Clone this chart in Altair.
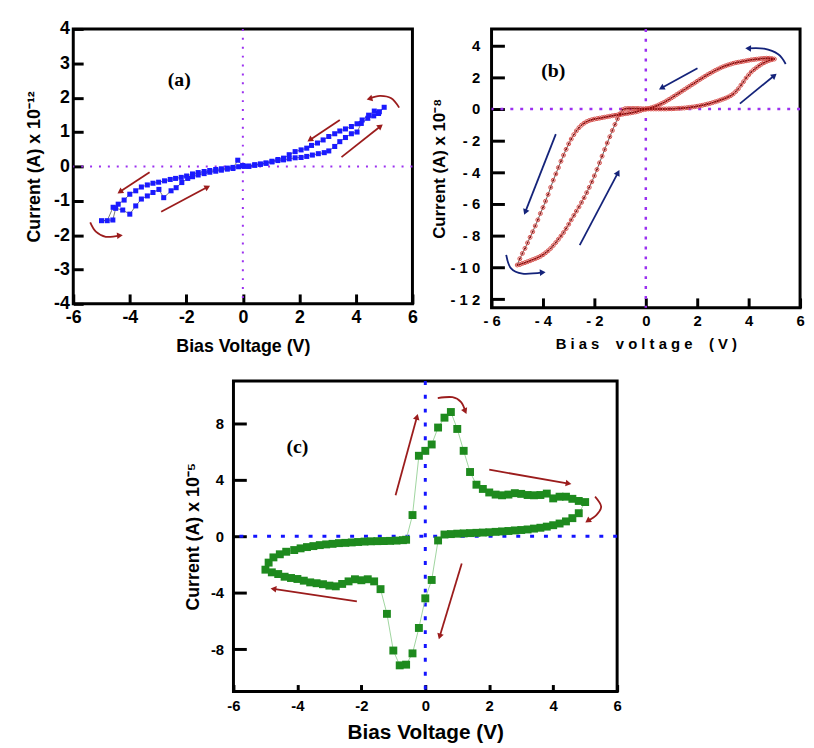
import math
import altair as alt
import pandas as pd

# ---------------- Panel (a): I (x 1e-12 A) vs V ----------------
a1_v = [0.0, 0.21, 0.42, 0.62, 0.82, 1.03, 1.24, 1.44, 1.64, 1.85, 2.06, 2.26, 2.46, 2.67, 2.88, 3.04, 3.25, 3.43, 3.63, 3.84, 4.04, 4.19, 4.42, 4.63, 4.80, 5.0]
a1_i = [0.02, 0.0, 0.05, 0.07, 0.09, 0.13, 0.17, 0.19, 0.22, 0.25, 0.26, 0.29, 0.33, 0.37, 0.40, 0.45, 0.58, 0.72, 0.84, 0.95, 1.0, 1.25, 1.40, 1.47, 1.54, 1.72]
a2_v = [4.83, 4.65, 4.45, 4.22, 4.04, 3.84, 3.63, 3.43, 3.25, 3.04, 2.84, 2.64, 2.43, 2.26, 2.06, 1.85, 1.64, 1.44, 1.24, 1.03, 0.82, 0.62, 0.42, 0.21, 0.05]
a2_i = [1.59, 1.61, 1.49, 1.35, 1.24, 1.16, 1.09, 1.03, 0.95, 0.87, 0.77, 0.68, 0.61, 0.53, 0.48, 0.43, 0.34, 0.24, 0.20, 0.15, 0.10, 0.06, 0.03, 0.01, 0.0]
a3_v = [-0.15, -0.35, -0.55, -0.76, -0.96, -1.17, -1.37, -1.58, -1.78, -1.99, -2.18, -2.38, -2.57, -2.77, -2.98, -3.18, -3.38, -3.59, -3.79, -4.0, -4.20, -4.41, -4.59, -4.80, -5.0]
a3_i = [-0.01, -0.03, -0.05, -0.07, -0.09, -0.12, -0.15, -0.18, -0.22, -0.28, -0.32, -0.35, -0.38, -0.42, -0.46, -0.49, -0.54, -0.60, -0.71, -0.81, -0.98, -1.10, -1.19, -1.58, -1.58]
a4_v = [-4.6, -4.5, -4.25, -4.0, -3.79, -3.59, -3.38, -3.18, -2.97, -2.80, -2.54, -2.36, -2.16, -1.95, -1.78, -1.58, -1.37, -1.17, -0.96, -0.76, -0.55, -0.35, -0.18, 0.0]
a4_i = [-1.56, -1.22, -1.27, -1.39, -1.15, -0.95, -0.86, -0.76, -0.67, -0.91, -0.71, -0.62, -0.47, -0.35, -0.30, -0.25, -0.21, -0.17, -0.14, -0.11, -0.08, -0.06, 0.18, 0.02]

# ---------------- Panel (b): I (x 1e-8 A) vs V ----------------
b1_v = [0.0, 0.1, 0.2, 0.3, 0.4, 0.5, 0.6, 0.7, 0.8, 0.9, 1.0, 1.1, 1.2, 1.3, 1.4, 1.5, 1.6, 1.7, 1.8, 1.9, 2.0, 2.1, 2.2, 2.3, 2.4, 2.5, 2.6, 2.7, 2.8, 2.9, 3.0, 3.1, 3.2, 3.3, 3.4, 3.5, 3.6, 3.7, 3.8, 3.9, 4.0, 4.1, 4.2, 4.3, 4.4, 4.5, 4.6, 4.7, 4.8, 4.9, 5.0]
b1_i = [0, 0, 0, 0, 0, 0, 0, 0, 0, 0.01, 0.01, 0.02, 0.03, 0.04, 0.05, 0.06, 0.08, 0.1, 0.12, 0.14, 0.17, 0.2, 0.23, 0.27, 0.31, 0.35, 0.4, 0.45, 0.5, 0.56, 0.62, 0.68, 0.75, 0.84, 0.95, 1.1, 1.28, 1.5, 1.72, 1.95, 2.15, 2.33, 2.48, 2.6, 2.72, 2.83, 2.92, 3.0, 3.06, 3.11, 3.15]
b2_v = [4.9, 4.8, 4.7, 4.6, 4.5, 4.4, 4.3, 4.2, 4.1, 4.0, 3.9, 3.8, 3.7, 3.6, 3.5, 3.4, 3.3, 3.2, 3.1, 3.0, 2.9, 2.8, 2.7, 2.6, 2.5, 2.4, 2.3, 2.2, 2.1, 2.0, 1.9, 1.8, 1.7, 1.6, 1.5, 1.4, 1.3, 1.2, 1.1, 1.0, 0.9, 0.8, 0.7, 0.6, 0.5, 0.4, 0.3, 0.2, 0.1, 0.0]
b2_i = [3.18, 3.2, 3.2, 3.19, 3.18, 3.16, 3.14, 3.12, 3.1, 3.07, 3.04, 3.01, 2.98, 2.95, 2.92, 2.88, 2.83, 2.78, 2.72, 2.66, 2.59, 2.51, 2.43, 2.34, 2.25, 2.16, 2.06, 1.96, 1.86, 1.75, 1.64, 1.54, 1.43, 1.33, 1.22, 1.12, 1.01, 0.91, 0.8, 0.7, 0.6, 0.5, 0.41, 0.33, 0.25, 0.18, 0.12, 0.07, 0.03, 0.0]
b3_v = [-0.1, -0.2, -0.3, -0.4, -0.5, -0.6, -0.7, -0.8, -0.9, -1.0, -1.1, -1.2, -1.3, -1.4, -1.5, -1.6, -1.7, -1.8, -1.9, -2.0, -2.1, -2.2, -2.3, -2.4, -2.5, -2.6, -2.7, -2.8, -2.9, -3.0, -3.1, -3.2, -3.3, -3.4, -3.5, -3.6, -3.7, -3.8, -3.9, -4.0, -4.1, -4.2, -4.3, -4.4, -4.5, -4.6, -4.7, -4.8, -4.9, -5.0]
b3_i = [-0.05, -0.1, -0.15, -0.19, -0.22, -0.25, -0.28, -0.3, -0.33, -0.36, -0.38, -0.4, -0.43, -0.46, -0.49, -0.52, -0.55, -0.58, -0.61, -0.64, -0.68, -0.73, -0.8, -0.9, -1.02, -1.18, -1.38, -1.62, -1.9, -2.2, -2.55, -2.92, -3.3, -3.7, -4.1, -4.5, -4.95, -5.4, -5.82, -6.22, -6.6, -7.0, -7.38, -7.75, -8.1, -8.45, -8.8, -9.12, -9.45, -9.85]
b4_v = [-4.9, -4.8, -4.7, -4.6, -4.5, -4.4, -4.3, -4.2, -4.1, -4.0, -3.9, -3.8, -3.7, -3.6, -3.5, -3.4, -3.3, -3.2, -3.1, -3.0, -2.9, -2.8, -2.7, -2.6, -2.5, -2.4, -2.3, -2.2, -2.1, -2.0, -1.9, -1.8, -1.7, -1.6, -1.5, -1.4, -1.3, -1.2, -1.1, -1.0, -0.9, -0.8, -0.7, -0.6, -0.5, -0.4, -0.3, -0.2, -0.1, 0.0]
b4_i = [-9.82, -9.75, -9.7, -9.64, -9.58, -9.51, -9.45, -9.38, -9.3, -9.2, -9.08, -8.95, -8.8, -8.62, -8.43, -8.23, -8.02, -7.8, -7.55, -7.28, -7.0, -6.72, -6.45, -6.18, -5.9, -5.6, -5.28, -4.95, -4.6, -4.22, -3.82, -3.4, -2.98, -2.56, -2.15, -1.75, -1.36, -0.98, -0.62, -0.3, -0.05, 0.02, 0.03, 0.03, 0.03, 0.03, 0.03, 0.02, 0.01, 0.0]

# ---------------- Panel (c): I (x 1e-5 A) vs V ----------------
c1_v = [-0.6, -0.4, -0.2, 0.0, 0.2, 0.4, 0.6, 0.8, 1.0, 1.2, 1.4, 1.6, 1.8, 2.0, 2.2, 2.4, 2.6, 2.8, 3.0, 3.2, 3.4, 3.6, 3.8, 4.0, 4.2, 4.4, 4.6, 4.8, 5.0]
c1_i = [-0.25, 1.5, 5.7, 6.05, 6.5, 7.7, 8.4, 8.8, 7.6, 6.05, 4.55, 3.65, 3.35, 3.1, 2.95, 2.9, 2.95, 3.05, 3.0, 2.92, 2.9, 2.92, 3.02, 2.68, 2.8, 2.8, 2.65, 2.5, 2.42]
c2_v = [4.8, 4.6, 4.4, 4.2, 4.0, 3.8, 3.6, 3.4, 3.2, 3.0, 2.8, 2.6, 2.4, 2.2, 2.0, 1.8, 1.6, 1.4, 1.2, 1.0, 0.8, 0.6, 0.4]
c2_i = [1.63, 1.28, 1.05, 0.9, 0.78, 0.68, 0.6, 0.54, 0.48, 0.44, 0.41, 0.37, 0.34, 0.31, 0.28, 0.26, 0.24, 0.22, 0.2, 0.18, 0.15, 0.12, -0.3]
c3_v = [0.2, 0.0, -0.2, -0.4, -0.6, -0.8, -1.0, -1.2, -1.4, -1.6, -1.8, -2.0, -2.2, -2.4, -2.6, -2.8, -3.0, -3.2, -3.4, -3.6, -3.8, -4.0, -4.2, -4.4, -4.6, -4.8, -5.0]
c3_i = [-3.1, -4.4, -6.5, -8.3, -9.1, -9.15, -8.1, -5.5, -3.75, -3.2, -3.05, -3.12, -3.05, -3.2, -3.38, -3.55, -3.5, -3.4, -3.33, -3.27, -3.15, -3.03, -2.96, -2.87, -2.68, -2.56, -2.37]
c4_v = [-4.9, -4.75, -4.55, -4.35, -4.1, -3.9, -3.7, -3.5, -3.3, -3.1, -2.9, -2.7, -2.5, -2.3, -2.1, -1.9, -1.7, -1.5, -1.3, -1.1, -0.9, -0.7]
c4_i = [-1.87, -1.5, -1.28, -1.1, -0.98, -0.86, -0.77, -0.7, -0.63, -0.58, -0.54, -0.49, -0.47, -0.44, -0.41, -0.38, -0.36, -0.35, -0.34, -0.33, -0.31, -0.28]

# ---------------- Sweep-direction arrows (data coordinates) ----------------
a_arrows = [
    [(3.43, 1.35), (2.37, 0.77)],
    [(3.49, 0.27), (4.87, 1.17)],
    [(-3.30, -0.17), (-4.35, -0.74)],
    [(-2.89, -1.32), (-1.25, -0.60)],
    [(5.53, 1.71), (5.25, 1.98), (4.85, 2.05), (4.48, 1.97)],
    [(-5.40, -1.63), (-5.20, -1.90), (-4.85, -2.05), (-4.35, -2.01)],
]
b_arrows = [
    [(2.01, 2.57), (0.61, 1.32)],
    [(3.66, 0.34), (5.00, 2.11)],
    [(-3.50, -1.59), (-4.69, -6.51)],
    [(-2.57, -8.59), (-1.08, -4.02)],
    [(5.44, 2.84), (5.15, 3.45), (4.60, 3.80), (3.98, 3.82)],
    [(-5.43, -9.21), (-5.25, -10.05), (-4.80, -10.40), (-4.01, -10.32)],
]
c_arrows = [
    [(-0.93, 2.91), (-0.26, 8.46)],
    [(0.39, 9.79), (0.85, 9.85), (1.12, 9.50), (1.25, 8.85)],
    [(2.00, 4.71), (4.48, 3.73)],
    [(5.31, 2.80), (5.50, 2.10), (5.35, 1.50), (5.08, 1.09)],
    [(1.14, -1.94), (0.45, -7.11)],
    [(-2.14, -4.61), (-4.75, -3.73)],
]

FONT = "Liberation Sans"
SERIF = "Liberation Serif"

A_W, A_H, A_XD, A_YD = 343, 278, [-6, 6], [-4, 4]
B_W, B_H, B_XD, B_YD = 312, 282, [-6, 6], [-12.55, 5.05]
C_W, C_H, C_XD, C_YD = 388, 314, [-6, 6], [-11, 11]

HYPHEN = "(datum.value < 0 ? '-' : '') + abs(datum.value)"
SPACED = ("datum.value < 0 ? '- ' + (abs(datum.value) >= 10 ? '1 ' + (abs(datum.value) - 10) "
          ": abs(datum.value)) : '' + datum.value")
NB = "\u00a0"
B_XTITLE = (NB.join("Bias") + NB * 4 + NB.join("voltage") + NB * 4 + NB.join("(V)"))


def scale(dom):
    return alt.Scale(domain=dom, nice=False, zero=False)


def loop_df(branches):
    rows, k = [], 0
    for vs, cs in branches:
        for v, c in zip(vs, cs):
            rows.append({"v": v, "c": c, "k": k})
            k += 1
    return pd.DataFrame(rows)


def axis(values, expr, size, tick, lpad, title, tsize, tpad, weight="bold", flush=False):
    return alt.Axis(values=values, labelExpr=expr, grid=False, domain=False,
                    ticks=True, tickSize=tick, tickWidth=3, tickColor="black",
                    offset=-tick, labelPadding=lpad, labelFont=FONT,
                    labelFontWeight=weight, labelFontSize=size, labelColor="black",
                    labelFlush=flush, labelOverlap=False,
                    title=title, titleFont=FONT, titleFontWeight="bold",
                    titleFontSize=tsize, titlePadding=tpad, titleColor="black")


class Panel:
    def __init__(self, xd, yd, W, H, xax, yax):
        self.xd, self.yd, self.W, self.H = xd, yd, W, H
        self.xax, self.yax = xax, yax

    def X(self):
        return alt.X("v:Q", scale=scale(self.xd), axis=self.xax)

    def Y(self):
        return alt.Y("c:Q", scale=scale(self.yd), axis=self.yax)

    def zero_lines(self, color, dash, width):
        z = pd.DataFrame({"v": [0], "c": [0]})
        vline = alt.Chart(z).mark_rule(color=color, strokeDash=dash, strokeWidth=width).encode(x=self.X())
        hline = alt.Chart(z).mark_rule(color=color, strokeDash=dash, strokeWidth=width).encode(y=self.Y())
        return [vline, hline]

    def arrows(self, arrows, color, width, head):
        kx = self.W / (self.xd[1] - self.xd[0])
        ky = self.H / (self.yd[1] - self.yd[0])
        rows, heads = [], []
        for j, pts in enumerate(arrows):
            for n, (v, c) in enumerate(pts):
                rows.append({"v": v, "c": c, "n": n, "id": j})
            (v1, c1), (v2, c2) = pts[-2], pts[-1]
            dx = (v2 - v1) * kx
            dy = -(c2 - c1) * ky
            ang = math.degrees(math.atan2(dx, -dy)) % 360
            heads.append({"v": v2, "c": c2, "ang": ang})
        lines = alt.Chart(pd.DataFrame(rows)).mark_line(
            color=color, strokeWidth=width, interpolate="cardinal").encode(
            x=self.X(), y=self.Y(), detail="id:N", order="n:Q")
        tips = alt.Chart(pd.DataFrame(heads)).mark_point(
            shape="triangle-up", filled=True, size=head, color=color, opacity=1).encode(
            x=self.X(), y=self.Y(), angle=alt.Angle("ang:Q", scale=None))
        return [lines, tips]

    def label(self, text, v, c):
        d = pd.DataFrame({"v": [v], "c": [c], "t": [text]})
        return alt.Chart(d).mark_text(font=SERIF, fontWeight="bold", fontSize=20,
                                      color="black").encode(x=self.X(), y=self.Y(), text="t:N")


# ---------------- Panel (a) ----------------
pa = Panel(A_XD, A_YD, A_W, A_H,
           axis([-6, -4, -2, 0, 2, 4, 6], HYPHEN, 18, 10, 5, "Bias Voltage (V)", 18, 11),
           axis([-4, -3, -2, -1, 0, 1, 2, 3, 4], HYPHEN, 18, 10, 4, "Current (A) x 10⁻¹²", 18, 10))
a_df = loop_df([(a1_v, a1_i), (a2_v, a2_i), (a3_v, a3_i), (a4_v, a4_i)])
a_line = alt.Chart(a_df).mark_line(color="#555555", strokeWidth=0.8).encode(
    x=pa.X(), y=pa.Y(), order="k:Q")
a_pts = alt.Chart(a_df).mark_square(color="#1a1aff", size=26, opacity=1).encode(x=pa.X(), y=pa.Y())
panel_a = alt.layer(
    *pa.zero_lines("#9b30f0", [2, 7], 2),
    a_line, a_pts,
    *pa.arrows(a_arrows, "#9b1c1c", 1.8, 45),
    pa.label("(a)", -2.25, 2.5),
).properties(width=A_W, height=A_H)

# ---------------- Panel (b) ----------------
pb = Panel(B_XD, B_YD, B_W, B_H,
           axis([-6, -4, -2, 0, 2, 4, 6], SPACED, 15, 10, 6, B_XTITLE, 15, 8),
           axis([-12, -10, -8, -6, -4, -2, 0, 2, 4], SPACED, 15, 13, 12, "Current (A) x 10⁻⁸", 17, 2))
b_df = loop_df([(b1_v, b1_i), (b2_v, b2_i), (b3_v, b3_i), (b4_v, b4_i)])
b_line = alt.Chart(b_df).mark_line(color="#333333", strokeWidth=0.8).encode(
    x=pb.X(), y=pb.Y(), order="k:Q")
b_ring = alt.Chart(b_df).mark_point(shape="circle", filled=False, size=16, stroke="#d9534f",
                                    strokeWidth=1, opacity=1).encode(x=pb.X(), y=pb.Y())
b_dot = alt.Chart(b_df).mark_circle(color="#8b0a0a", size=4, opacity=1).encode(x=pb.X(), y=pb.Y())
panel_b = alt.layer(
    *pb.zero_lines("#9b30f0", [3, 7], 2.5),
    b_line, b_ring, b_dot,
    *pb.arrows(b_arrows, "#14237a", 1.8, 45),
    pb.label("(b)", -3.6, 2.4),
).properties(width=B_W, height=B_H)

# ---------------- Panel (c) ----------------
pc = Panel(C_XD, C_YD, C_W, C_H,
           axis([-6, -4, -2, 0, 2, 4, 6], HYPHEN, 15, 7, 7, "Bias Voltage (V)", 21, 9),
           axis([-8, -4, 0, 4, 8], HYPHEN, 15, 13, 10, "Current (A) x 10⁻⁵", 18, 8))
c_df = loop_df([(c1_v, c1_i), (c2_v, c2_i), (c3_v, c3_i), (c4_v, c4_i)])
c_line = alt.Chart(c_df).mark_line(color="#9fd59f", strokeWidth=1).encode(
    x=pc.X(), y=pc.Y(), order="k:Q")
c_pts = alt.Chart(c_df).mark_square(color="#1e8a1e", size=64, opacity=1).encode(x=pc.X(), y=pc.Y())
panel_c = alt.layer(
    *pc.zero_lines("#1414ff", [4, 10], 3),
    c_line, c_pts,
    *pc.arrows(c_arrows, "#9b1c1c", 1.8, 45),
    pc.label("(c)", -4.0, 6.3),
).properties(width=C_W, height=C_H)

spacer = alt.Chart(pd.DataFrame({"v": [0], "c": [0]})).mark_point(opacity=0).encode(
    x=alt.X("v:Q", axis=None), y=alt.Y("c:Q", axis=None)
).properties(width=1, height=1, view=alt.ViewBackground(stroke="transparent"))

top = alt.hconcat(panel_a, panel_b, spacing=80, bounds="flush")
bottom = alt.hconcat(spacer, panel_c, spacing=161, bounds="flush")
chart = alt.vconcat(top, bottom, spacing=20).properties(
    padding={"left": 16, "top": 6, "right": 0, "bottom": 0},
    background="white",
).configure_view(stroke="black", strokeWidth=3)

chart.save("out.html", embed_options={"renderer": "svg", "actions": False})
